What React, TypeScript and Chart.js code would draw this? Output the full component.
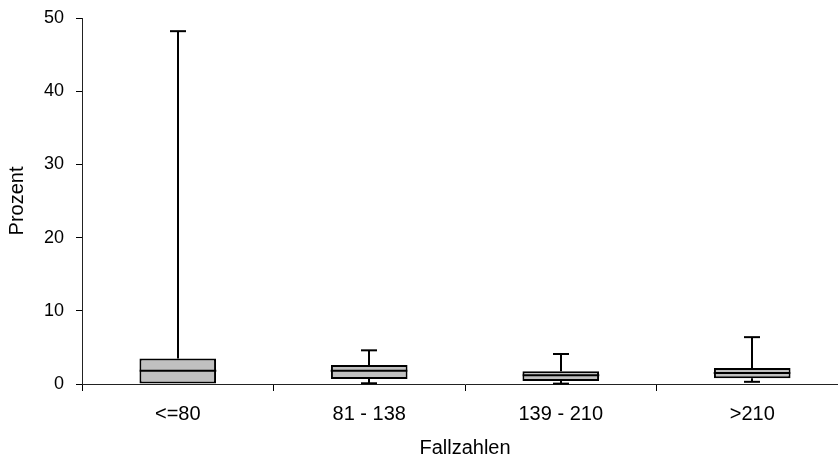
import { useEffect, useRef } from 'react';
import { Chart, registerables } from 'chart.js';

Chart.register(...registerables);

const categories = ['<=80', '81 - 138', '139 - 210', '>210'];
const minValues = [0, 0.1, 0.05, 0.3];
const q1Values = [0, 0.7, 0.4, 0.8];
const medianValues = [1.8, 1.8, 1.2, 1.5];
const q3Values = [3.5, 2.6, 1.75, 2.2];
const maxValues = [48.2, 4.6, 4.1, 6.4];
const yTickValues = [0, 10, 20, 30, 40, 50];

const FONT = "'Liberation Sans', Arial, sans-serif";

const whiskerPlugin = {
  id: 'boxWhiskers',
  afterDatasetsDraw(chart: any) {
    const { ctx } = chart;
    const xs = chart.scales.x;
    const ys = chart.scales.y;
    const meta = chart.getDatasetMeta(0);
    ctx.save();
    ctx.strokeStyle = '#000';
    ctx.lineWidth = 2;
    ctx.lineCap = 'butt';
    const line = (x1: number, y1: number, x2: number, y2: number) => {
      ctx.beginPath();
      ctx.moveTo(x1, y1);
      ctx.lineTo(x2, y2);
      ctx.stroke();
    };
    categories.forEach((_, i) => {
      const bar = meta.data[i];
      const cx = Math.round(xs.getPixelForValue(i));
      const half = bar.width / 2;
      const capHalf = 8;
      const yMax = ys.getPixelForValue(maxValues[i]);
      const yQ3 = ys.getPixelForValue(q3Values[i]);
      const yQ1 = ys.getPixelForValue(q1Values[i]);
      const yMin = ys.getPixelForValue(minValues[i]);
      const yMed = ys.getPixelForValue(medianValues[i]);
      line(cx, yQ3, cx, yMax);
      line(cx - capHalf, yMax, cx + capHalf, yMax);
      if (minValues[i] < q1Values[i]) {
        line(cx, yQ1, cx, yMin);
        line(cx - capHalf, yMin, cx + capHalf, yMin);
      }
      line(cx - half, yMed, cx + half, yMed);
    });
    ctx.restore();
  },
};

export default function App() {
  const canvasRef = useRef<HTMLCanvasElement | null>(null);

  useEffect(() => {
    if (!canvasRef.current) return;
    const chart = new Chart(canvasRef.current, {
      type: 'bar',
      data: {
        labels: categories,
        datasets: [
          {
            data: categories.map((_, i) => [q1Values[i], q3Values[i]]) as any,
            backgroundColor: '#c0c0c0',
            borderColor: '#000',
            borderWidth: 2,
            borderSkipped: false,
            barPercentage: 0.4,
            categoryPercentage: 1,
          },
        ],
      },
      options: {
        responsive: false,
        animation: false,
        events: [],
        layout: { padding: { left: 0, top: 18, right: 2, bottom: 0 } },
        plugins: {
          legend: { display: false },
          tooltip: { enabled: false },
        },
        scales: {
          x: {
            type: 'category',
            offset: true,
            grid: {
              offset: true,
              drawOnChartArea: false,
              drawTicks: true,
              tickLength: 7,
              color: '#000',
            },
            border: { display: true, color: '#222', width: 1 },
            ticks: {
              color: '#000',
              padding: 11,
              font: { family: FONT, size: 20 },
              maxRotation: 0,
            },
            title: {
              display: true,
              text: 'Fallzahlen',
              color: '#000',
              font: { family: FONT, size: 20 },
              padding: { top: 0, bottom: 0 },
            },
            afterFit(scale: any) {
              scale.height = 76;
              scale.paddingLeft = 0;
              scale.paddingRight = 0;
            },
          },
          y: {
            min: 0,
            max: 50,
            afterBuildTicks(scale: any) {
              scale.ticks = yTickValues.map((v) => ({ value: v }));
            },
            grid: {
              drawOnChartArea: false,
              drawTicks: true,
              tickLength: 6,
              color: '#000',
            },
            border: { display: true, color: '#222', width: 1 },
            ticks: {
              color: '#000',
              padding: 12,
              font: { family: FONT, size: 18 },
            },
            title: {
              display: true,
              text: 'Prozent',
              color: '#000',
              font: { family: FONT, size: 20 },
              padding: { top: 5, bottom: 0 },
            },
            afterFit(scale: any) {
              scale.width = 82;
              scale.paddingTop = 0;
              scale.paddingBottom = 0;
            },
          },
        },
      },
      plugins: [whiskerPlugin],
    });
    return () => chart.destroy();
  }, []);

  return (
    <div
      style={{
        position: 'fixed',
        left: 0,
        top: 0,
        width: 838,
        height: 460,
        overflow: 'hidden',
        background: '#fff',
      }}
    >
      <canvas ref={canvasRef} width={850} height={460} style={{ width: 850, height: 460, display: 'block' }} />
    </div>
  );
}
